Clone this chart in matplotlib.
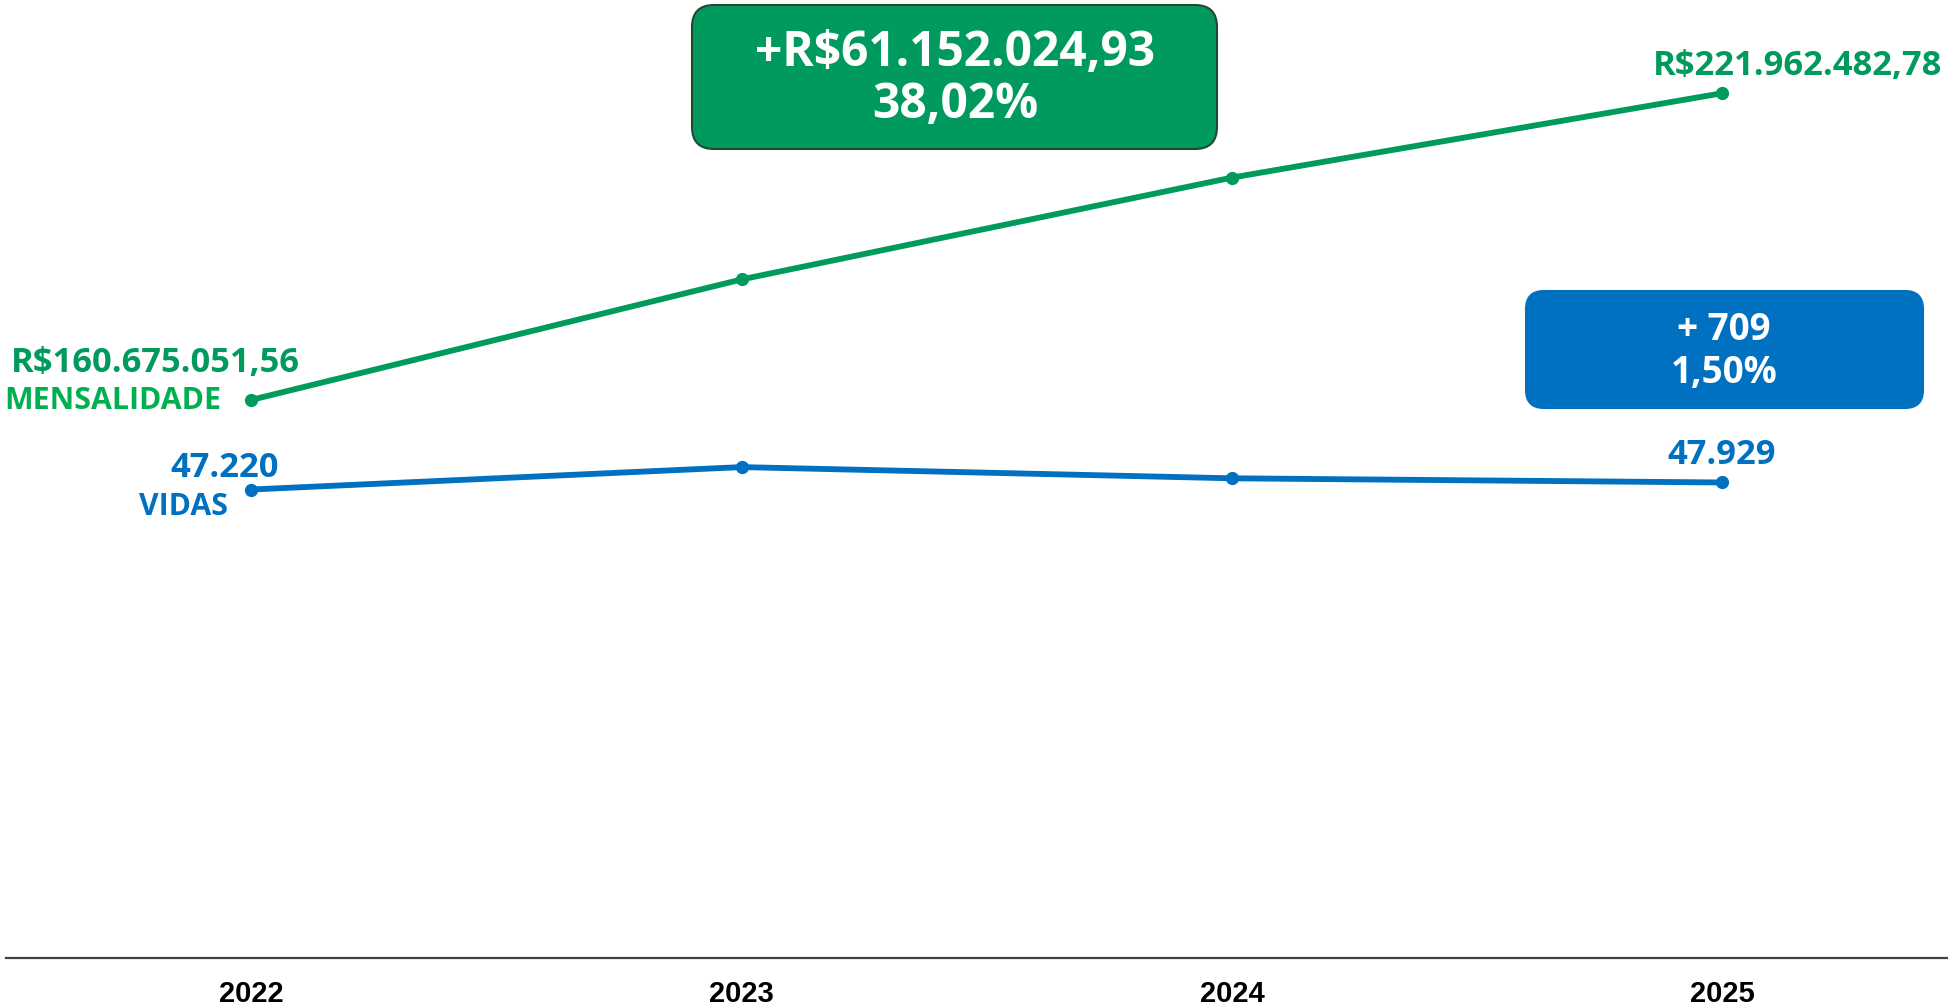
import matplotlib
matplotlib.use("Agg")
import matplotlib.pyplot as plt
from matplotlib.patches import FancyBboxPatch

years = ["2022", "2023", "2024", "2025"]
mensalidade = [160675051.56, 184750000.0, 205100000.0, 221962482.78]
vidas = [47220, 49480, 48350, 47929]
mens_labels = ["R$160.675.051,56", "R$221.962.482,78"]
vidas_labels = ["47.220", "47.929"]
box_mens = ["+R$61.152.024,93", "38,02%"]
box_vidas = ["+ 709", "1,50%"]

GREEN = "#009B5C"
GREEN2 = "#00B050"
BLUE = "#0070C0"
FONT = "Open Sans"

W, H = 1948, 1008
fig = plt.figure(figsize=(W / 100, H / 100), dpi=100)

def fx(x):
    return x / W

def fy(y):
    return 1 - y / H

ax = fig.add_axes([fx(6), fy(958), fx(1948) - fx(6), fy(0) - fy(958)])
ax2 = ax.twinx()
x = list(range(len(years)))

ax.plot(x, mensalidade, color=GREEN, lw=4.2, marker="o", ms=8.5, zorder=3)
ax2.plot(x, vidas, color=BLUE, lw=4.2, marker="o", ms=8.5, zorder=3)

ax.set_xlim(-0.5, 3.46)
ax.set_ylim(49.18e6, 240.58e6)
ax2.set_ylim(0, 96560)

for a in (ax, ax2):
    for s in ("top", "right", "left"):
        a.spines[s].set_visible(False)
    a.set_yticks([])
ax2.spines["bottom"].set_visible(False)
ax.spines["bottom"].set_color("#404040")
ax.spines["bottom"].set_linewidth(1.6)

ax.set_xticks(x)
ax.set_xticklabels(years, fontfamily="Liberation Sans", fontweight="bold",
                   fontsize=21, color="black")
ax.tick_params(axis="x", length=0, pad=16)

def t(xp, yp, s, color, size, ha="center"):
    fig.text(fx(xp), fy(yp), s, color=color, fontsize=size,
             fontweight="bold", fontfamily=FONT, ha=ha, va="center")

SN = 24.8
SL = 21.8
t(155, 363, mens_labels[0], GREEN, SN)
t(113, 401, "MENSALIDADE", GREEN2, SL)
t(1798, 66, mens_labels[1], GREEN, SN)
t(279, 468, vidas_labels[0], BLUE, SN, ha="right")
t(228, 507, "VIDAS", BLUE, SL, ha="right")
t(1722, 455, vidas_labels[1], BLUE, SN)

def box(x0, y0, x1, y1, face, edge, r):
    p = FancyBboxPatch((fx(x0), fy(y1)), fx(x1) - fx(x0), fy(y0) - fy(y1),
                       boxstyle=f"round,pad=0,rounding_size={r / W}",
                       transform=fig.transFigure, facecolor=face,
                       edgecolor=edge, linewidth=1.5, mutation_aspect=W / H)
    fig.patches.append(p)

box(692, 5, 1217, 149, "#009A5E", "#1E4B30", 22)
t(955, 53, box_mens[0], "white", 34.5)
t(955, 106, box_mens[1], "white", 34.5)

box(1526, 291, 1923, 408, BLUE, BLUE, 18)
t(1724, 330, box_vidas[0], "white", 26.5)
t(1724, 373, box_vidas[1], "white", 26.5)

fig.savefig("out.png", dpi=100, facecolor="white")
